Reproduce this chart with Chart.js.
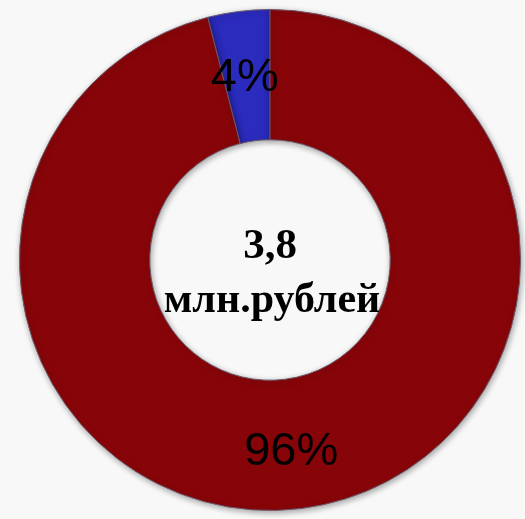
<!DOCTYPE html>
<html>
<head>
<meta charset="utf-8">
<script src="https://cdn.jsdelivr.net/npm/chart.js@4"></script>
<style>
  html, body { margin: 0; padding: 0; background: #f8f8f8; }
  #wrap { position: relative; width: 525px; height: 519px; }
</style>
</head>
<body>
<div id="wrap"><canvas id="donut"></canvas></div>
<script>
// shares of the total, percent
const categories = ['A', 'B'];
const shares = [4, 96];
const shareLabels = ['4%', '96%'];
const sliceColors = ['#2b2bbd', '#870509'];
const centerLines = ['3,8', 'млн.рублей'];

// slice labels + centre caption
const labelPlugin = {
    id: 'sliceLabels',
    afterDatasetsDraw(chart) {
        const ctx = chart.ctx;
        const meta = chart.getDatasetMeta(0);
        ctx.save();
        ctx.fillStyle = '#000';
        ctx.textAlign = 'center';
        ctx.textBaseline = 'middle';
        ctx.font = '47px "Liberation Sans", Arial, sans-serif';
        meta.data.forEach((arc, i) => {
            const p = arc.tooltipPosition();
            ctx.fillText(shareLabels[i], p.x - 2, p.y + (i === 1 ? 8 : 2));
        });
        const c = meta.data[0];
        ctx.font = 'bold 43px "Liberation Serif", "Times New Roman", serif';
        ctx.fillText(centerLines[0], c.x, c.y - 13);
        ctx.font = 'bold 42px "Liberation Serif", "Times New Roman", serif';
        ctx.fillText(centerLines[1], c.x + 2, c.y + 41);
        ctx.restore();
    }
};

const shadowPlugin = {
    id: 'softShadow',
    beforeDatasetsDraw(chart) {
        const ctx = chart.ctx;
        ctx.save();
        ctx.shadowColor = 'rgba(0,0,0,0.35)';
        ctx.shadowBlur = 6;
        ctx.shadowOffsetX = 1;
        ctx.shadowOffsetY = 2;
    },
    afterDatasetsDraw(chart) {
        chart.ctx.restore();
    }
};

new Chart(document.getElementById('donut'), {
    type: 'doughnut',
    data: {
        labels: categories,
        datasets: [{
            data: shares,
            backgroundColor: sliceColors,
            borderColor: '#6a5a6a',
            borderWidth: 1
        }]
    },
    options: {
        responsive: true,
        maintainAspectRatio: false,
        animation: false,
        rotation: -14.4,
        cutout: '48%',
        layout: { padding: { left: 19, right: 4, top: 9, bottom: 8 } },
        plugins: {
            legend: { display: false },
            tooltip: { enabled: false }
        }
    },
    plugins: [shadowPlugin, labelPlugin]
});
</script>
</body>
</html>
